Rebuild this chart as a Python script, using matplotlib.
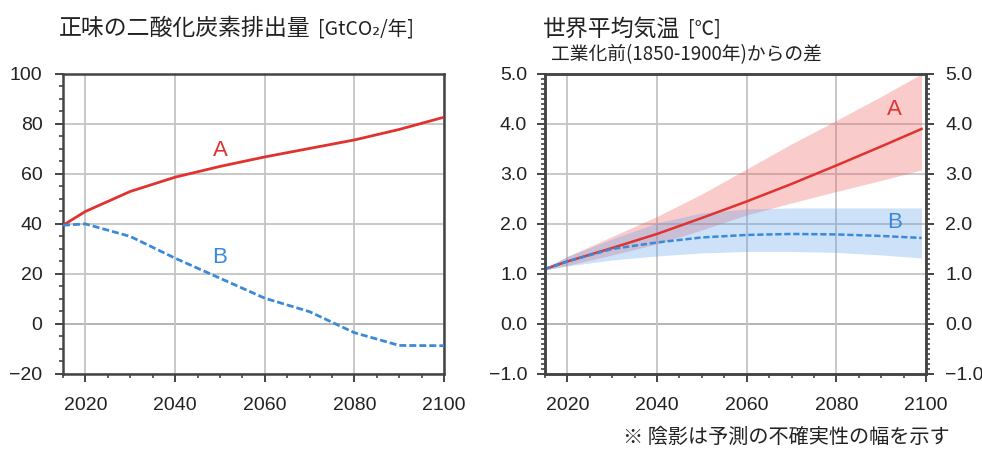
import matplotlib.pyplot as plt
from matplotlib.ticker import MultipleLocator

plt.rcParams['font.family'] = ['Noto Sans CJK JP', 'DejaVu Sans']

# CO2 emissions [GtCO2/yr]
years_e = [2015, 2020, 2030, 2040, 2050, 2060, 2070, 2080, 2090, 2100]
emis_a = [39.5, 45.0, 53.0, 58.7, 63.0, 66.8, 70.2, 73.6, 77.8, 82.7]
emis_b = [39.5, 40.0, 35.0, 26.3, 18.3, 10.3, 4.9, -3.5, -8.6, -8.7]

# global mean temperature, change from 1850-1900 [degC]
years_t = [2015, 2020, 2030, 2040, 2050, 2060, 2070, 2080, 2090, 2099]
temp_a = [1.10, 1.25, 1.52, 1.80, 2.12, 2.45, 2.80, 3.17, 3.55, 3.90]
temp_a_hi = [1.12, 1.35, 1.75, 2.15, 2.60, 3.10, 3.60, 4.07, 4.55, 5.00]
temp_a_lo = [1.08, 1.17, 1.38, 1.60, 1.88, 2.18, 2.42, 2.65, 2.87, 3.08]
temp_b = [1.10, 1.25, 1.50, 1.63, 1.73, 1.78, 1.80, 1.79, 1.76, 1.72]
temp_b_hi = [1.12, 1.35, 1.70, 2.02, 2.22, 2.30, 2.32, 2.32, 2.32, 2.32]
temp_b_lo = [1.08, 1.16, 1.28, 1.36, 1.42, 1.45, 1.45, 1.43, 1.38, 1.32]

RED = '#e0332f'
BLUE = '#3a8ad8'
TXT = '#222222'
DASH = (0, (2.5, 1.1))

fig = plt.figure(figsize=(9.82, 4.5), dpi=100)
ax1 = fig.add_axes([0.0642, 0.169, 0.388, 0.6667])
ax2 = fig.add_axes([0.555, 0.169, 0.388, 0.6667])


def style_axis(ax, ymin, ymax, ymajor, yminor):
    ax.set_xlim(2015, 2100)
    ax.set_ylim(ymin, ymax)
    ax.xaxis.set_major_locator(MultipleLocator(20))
    ax.xaxis.set_minor_locator(MultipleLocator(5))
    ax.yaxis.set_major_locator(MultipleLocator(ymajor))
    ax.yaxis.set_minor_locator(MultipleLocator(yminor))
    ax.grid(True, which='major', color='#c4c4c4', lw=1.3, zorder=0)
    ax.axhline(0, color='#333333', lw=1.4, zorder=1)
    for s in ax.spines.values():
        s.set_color('#444444')
        s.set_linewidth(1.8)
    ax.tick_params(which='major', direction='out', length=5.8, width=1.4,
                   color='#444444', labelsize=14, labelcolor=TXT,
                   labelfontfamily='Liberation Sans')
    ax.tick_params(which='minor', direction='out', length=3, width=1.2,
                   color='#444444')
    ax.tick_params(axis='x', which='major', pad=11)
    ax.tick_params(axis='y', which='major', pad=9)


# left: emissions
style_axis(ax1, -20, 100, 20, 5)
ax1.plot(years_e, emis_a, color=RED, lw=2, zorder=3)
ax1.plot(years_e, emis_b, color=BLUE, lw=2, ls=DASH, zorder=3)
ax1.text(2050, 69.3, 'A', color=RED, fontsize=16, ha='center', va='center',
         family='Liberation Sans')
ax1.text(2050, 26.4, 'B', color=BLUE, fontsize=16, ha='center', va='center',
         family='Liberation Sans')
ax1.set_xticks([2020, 2040, 2060, 2080, 2100])

# right: temperature
style_axis(ax2, -1, 5, 1, 0.1)
ax2.fill_between(years_t, temp_a_lo, temp_a_hi, color='#ee5555', alpha=0.3,
                 lw=0, zorder=2)
ax2.fill_between(years_t, temp_b_lo, temp_b_hi, color='#5aa0ec', alpha=0.3,
                 lw=0, zorder=2)
ax2.plot(years_t, temp_a, color=RED, lw=1.8, zorder=3)
ax2.plot(years_t, temp_b, color=BLUE, lw=1.8, ls=DASH, zorder=3)
ax2.text(2093, 4.28, 'A', color=RED, fontsize=16, ha='center', va='center',
         family='Liberation Sans')
ax2.text(2093, 2.03, 'B', color=BLUE, fontsize=16, ha='center', va='center',
         family='Liberation Sans')
ax2.yaxis.set_major_formatter('{x:.1f}')
ax2.tick_params(axis='y', which='major', pad=7)
ax2.set_xticks([2020, 2040, 2060, 2080, 2100])

# duplicate temperature scale on the right-hand side
ax2r = ax2.twinx()
ax2r.set_ylim(ax2.get_ylim())
ax2r.yaxis.set_major_locator(MultipleLocator(1))
ax2r.yaxis.set_minor_locator(MultipleLocator(0.1))
ax2r.yaxis.set_major_formatter('{x:.1f}')
for s in ax2r.spines.values():
    s.set_color('#444444')
    s.set_linewidth(1.8)
ax2r.tick_params(which='major', direction='out', length=5.8, width=1.4,
                 color='#444444', labelsize=14, labelcolor=TXT,
                 labelfontfamily='Liberation Sans', pad=8)
ax2r.tick_params(which='minor', direction='out', length=3, width=1.2,
                 color='#444444')

renderer = fig.canvas.get_renderer()


def title_pair(x, y, main, unit):
    t = fig.text(x, y, main, fontsize=16.5, color=TXT, va='center')
    bb = t.get_window_extent(renderer)
    fig.text(bb.x1 / fig.bbox.width + 0.008, y, unit, fontsize=14,
             color=TXT, va='center')


title_pair(0.0595, 0.936, '正味の二酸化炭素排出量', '[GtCO₂/年]')
title_pair(0.553, 0.936, '世界平均気温', '[℃]')
fig.text(0.5615, 0.878, '工業化前(1850-1900年)からの差', fontsize=13.5,
         color=TXT, va='center')
fig.text(0.634, 0.027, '※ 陰影は予測の不確実性の幅を示す', fontsize=14.5,
         color=TXT, va='center')

fig.savefig('out.png', dpi=100)
